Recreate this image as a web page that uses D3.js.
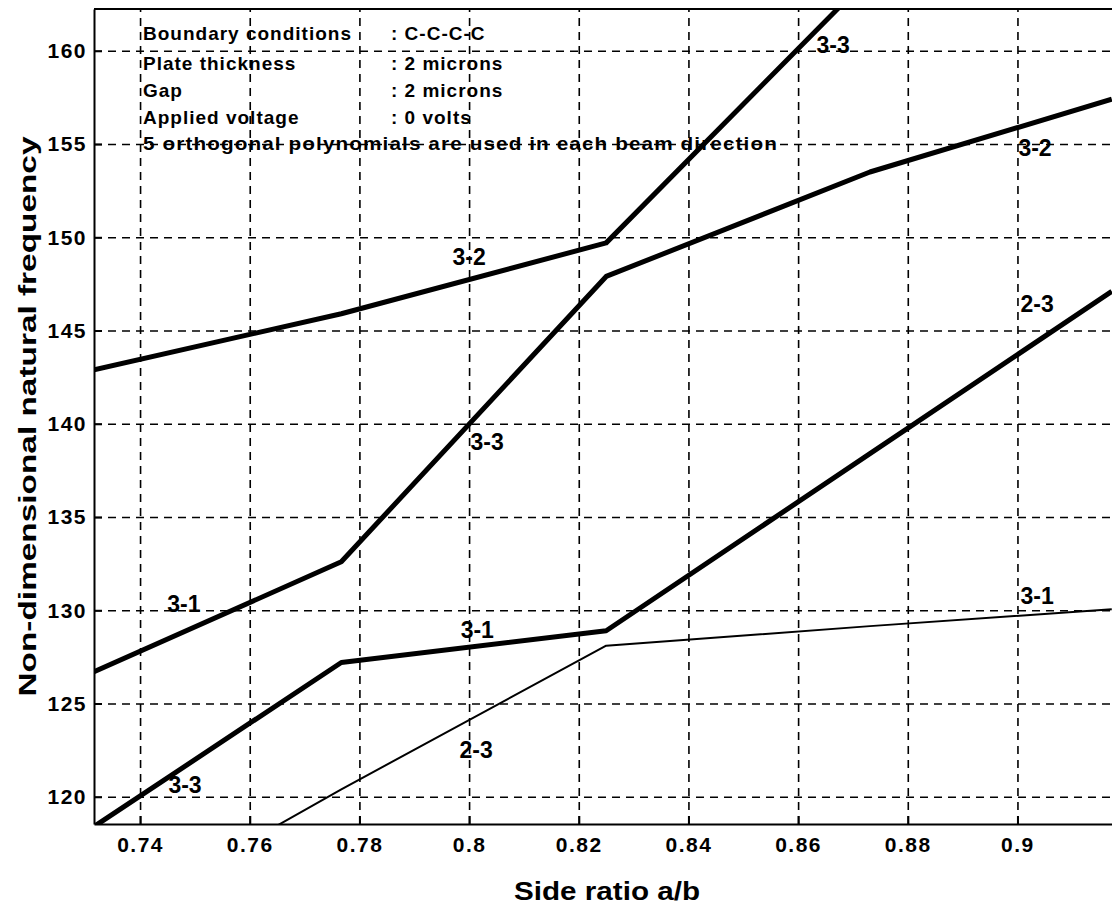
<!DOCTYPE html>
<html>
<head>
<meta charset="utf-8">
<script src="https://d3js.org/d3.v7.min.js"></script>
<style>
body { margin: 0; background: #fff; }
svg { display: block; font-family: "Liberation Sans", Arial, sans-serif; font-weight: bold; }
.grid line { stroke: #000; stroke-width: 1.6; stroke-dasharray: 8,6; }
.grid .domain { display: none; }
.axis path, .axis line { stroke: #000; stroke-width: 2; }
.axis text { font-size: 21px; letter-spacing: 1.5px; fill: #000; font-family: "Liberation Sans", Arial, sans-serif; font-weight: bold; }
.line { fill: none; stroke: #000; stroke-linejoin: round; }
.label { font-size: 23px; fill: #000; }
.note { font-size: 19px; letter-spacing: 1px; fill: #000; }
</style>
</head>
<body>
<script>

// side ratio a/b at the computed points
var sideRatio = [0.7316, 0.7767, 0.8250, 0.8731, 0.9172];

// natural frequencies, sorted by size (thick lines), thin line last
var freqA = [142.9, 145.9, 149.7, 164.0];
var freqB = [126.7, 132.6, 147.9, 153.5, 157.4];
var freqC = [118.4, 127.2, 128.9, 138.4, 147.1];
var freqD = [112.9, 120.4, 128.1, 129.15, 130.05];

// mode labels on the curves
var labelText = ["3-3", "3-2", "3-2", "3-3", "2-3", "3-1", "3-1", "3-1", "2-3", "3-3"];
var labelX = [0.8664, 0.9032, 0.8000, 0.8033, 0.9036, 0.7480, 0.8015, 0.9036, 0.8013, 0.7482];
var labelY = [160.31, 154.78, 148.94, 139.02, 146.42, 130.33, 128.94, 130.76, 122.5, 120.63];

// tick values and labels
var xTicks = [0.74, 0.76, 0.78, 0.80, 0.82, 0.84, 0.86, 0.88, 0.90];
var xTickLabels = ["0.74", "0.76", "0.78", "0.8", "0.82", "0.84", "0.86", "0.88", "0.9"];
var yTicks = [120, 125, 130, 135, 140, 145, 150, 155, 160];

// notes in the top left corner
var noteNames = ["Boundary conditions", "Plate thickness", "Gap", "Applied voltage"];
var noteValues = [": C-C-C-C", ": 2 microns", ": 2 microns", ": 0 volts"];
var noteFooter = "5 orthogonal polynomials are used in each beam direction";

// set the dimensions and margins of the graph
var margin = {top: 9, right: -8, bottom: 86, left: 94},
	width = 1112 - margin.left - margin.right,
	height = 910 - margin.top - margin.bottom;

// set the ranges
var x = d3.scaleLinear().domain([0.7316, 0.9187]).range([0, width]);
var y = d3.scaleLinear().domain([118.54, 162.24]).range([height, 0]);

// define the line
var valueline = d3.line()
				  .x(function(d, i) { return x(sideRatio[i]); })
				  .y(function(d) { return y(d); });

var svgRoot = d3.select("body").append("svg")
				.attr("width", 1112)
				.attr("height", 910);

var svg = svgRoot.append("g")
			.attr("transform", "translate(" + margin.left + "," + margin.top + ")");

svg.append("clipPath")
   .attr("id", "plotclip")
   .append("rect")
   .attr("width", width)
   .attr("height", height);

// dashed grid
svg.append("g")
   .attr("class", "grid")
   .attr("transform", "translate(0," + height + ")")
   .call(d3.axisBottom(x).tickValues(xTicks).tickSize(-height).tickFormat(""));

svg.append("g")
   .attr("class", "grid")
   .call(d3.axisLeft(y).tickValues(yTicks).tickSize(-width).tickFormat(""));

// the curves
var series = [freqA, freqB, freqC, freqD];
var strokeW = [5, 5, 5, 2];

svg.append("g")
   .attr("clip-path", "url(#plotclip)")
   .selectAll("path")
   .data(series)
   .enter().append("path")
   .attr("class", "line")
   .attr("stroke-width", function(d, i) { return strokeW[i]; })
   .attr("d", valueline);

// mode labels
svg.selectAll(".label")
   .data(labelText)
   .enter().append("text")
   .attr("class", "label")
   .attr("x", function(d, i) { return x(labelX[i]); })
   .attr("y", function(d, i) { return y(labelY[i]); })
   .attr("dy", "0.36em")
   .attr("text-anchor", "middle")
   .text(function(d) { return d; });

// add the X Axis
svg.append("g")
   .attr("class", "axis")
   .attr("transform", "translate(0," + height + ")")
   .call(d3.axisBottom(x).tickValues(xTicks).tickSizeInner(-8).tickSizeOuter(0).tickPadding(13)
		   .tickFormat(function(d, i) { return xTickLabels[i]; }));

// add the Y Axis
svg.append("g")
   .attr("class", "axis")
   .call(d3.axisLeft(y).tickValues(yTicks).tickSizeInner(-8).tickSizeOuter(0).tickPadding(7));

// top border
svg.append("line")
   .attr("x1", 0).attr("x2", width)
   .attr("y1", 0).attr("y2", 0)
   .attr("stroke", "#000")
   .attr("stroke-width", 2);

// notes
var noteBase = [39.5, 70, 96.5, 123.5];
noteNames.forEach(function(t, i) {
	svgRoot.append("text").attr("class", "note")
		   .attr("x", 143).attr("y", noteBase[i]).text(t);
	svgRoot.append("text").attr("class", "note")
		   .attr("x", 391).attr("y", noteBase[i]).text(noteValues[i]);
});
svgRoot.append("text").attr("class", "note")
	   .attr("x", 143).attr("y", 150)
	   .attr("textLength", 635)
	   .attr("lengthAdjust", "spacingAndGlyphs")
	   .text(noteFooter);

// axis titles
svgRoot.append("text")
	   .attr("x", margin.left + width / 2)
	   .attr("y", 900)
	   .attr("text-anchor", "middle")
	   .attr("font-size", "25px")
	   .attr("textLength", 186)
	   .attr("lengthAdjust", "spacingAndGlyphs")
	   .text("Side ratio a/b");

svgRoot.append("text")
	   .attr("transform", "translate(36," + (margin.top + height / 2) + ") rotate(-90)")
	   .attr("text-anchor", "middle")
	   .attr("font-size", "24px")
	   .attr("textLength", 560)
	   .attr("lengthAdjust", "spacingAndGlyphs")
	   .text("Non-dimensional natural frequency");

</script>
</body>
</html>
